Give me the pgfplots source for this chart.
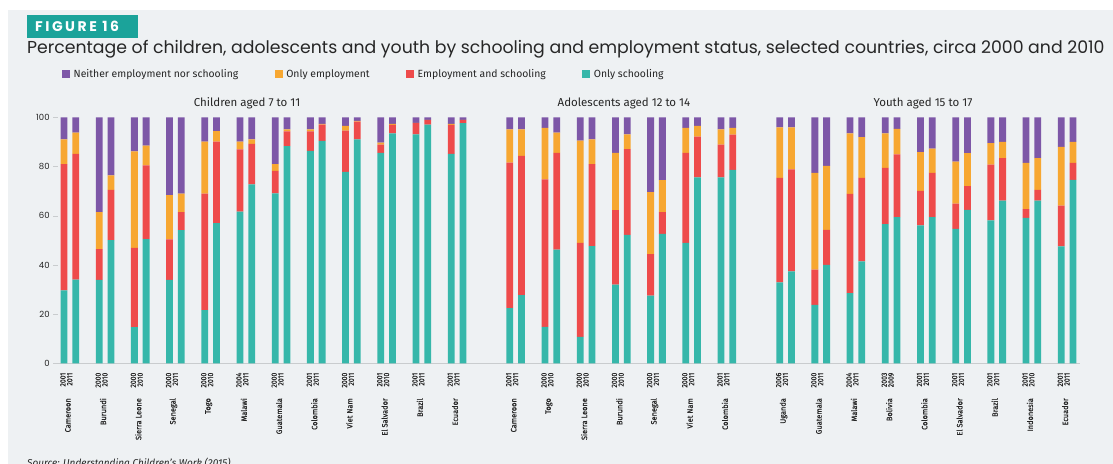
\documentclass[border=0pt]{standalone}
\usepackage{pgfplots}
\usepackage{pgfplotstable}
\pgfplotsset{compat=1.18}
\usepackage{fontspec}
\setmainfont{Fira Sans}
\newfontfamily\poppins{Poppins}
\newfontfamily\figfont[LetterSpace=18]{Poppins}
\newfontfamily\cond[FakeStretch=0.95,FakeBold=0.5]{Fira Sans}
\newfontfamily\yearfont[FakeStretch=0.9,FakeBold=0.25]{Fira Sans}
\definecolor{bgc}{HTML}{EEF1F3}
\definecolor{figteal}{HTML}{1BA39A}
\definecolor{cteal}{HTML}{36B7AA}
\definecolor{cred}{HTML}{EE4B4B}
\definecolor{corange}{HTML}{F7A731}
\definecolor{cpurple}{HTML}{7D57A7}
\definecolor{axgray}{HTML}{C9CCCE}
\definecolor{tickc}{HTML}{D9C9CC}
\definecolor{txt}{HTML}{262626}

\pgfplotstableread{
x s es e n
0 29.7 51.3 10.0 9.0
1 34.1 51.0 8.7 6.2
3 34.0 12.5 15.0 38.5
4 50.1 20.4 5.9 23.6
6 14.8 32.2 39.2 13.8
7 50.5 30.0 8.0 11.5
9 34.0 16.4 18.0 31.6
10 54.2 7.3 7.5 31.0
12 21.7 47.3 21.1 9.9
13 57.0 33.1 4.3 5.6
15 61.7 25.3 3.1 9.9
16 72.8 16.4 1.8 9.0
18 69.1 9.1 2.8 19.0
19 88.3 6.0 0.8 4.9
21 86.4 7.9 0.8 4.9
22 90.4 6.6 0.3 2.7
24 77.8 16.8 1.9 3.5
25 91.0 7.2 0.3 1.5
27 85.6 3.3 0.8 10.3
28 93.5 3.4 0.4 2.7
30 93.1 4.5 0.1 2.3
31 97.0 1.9 0.1 1.0
33 85.1 11.8 0.4 2.7
34 97.6 1.3 0.1 1.0
38 22.5 59.1 13.5 4.9
39 27.8 56.5 10.8 4.9
41 14.9 59.9 20.9 4.3
42 46.3 39.3 8.2 6.2
44 10.8 38.2 41.5 9.5
45 47.7 33.3 10.0 9.0
47 32.0 30.3 23.3 14.4
48 52.2 34.9 6.0 6.9
50 27.6 16.8 25.2 30.4
51 52.6 8.9 13.0 25.5
53 49.0 36.6 10.1 4.3
54 75.6 16.5 4.4 3.5
56 75.6 13.3 6.2 4.9
57 78.6 14.4 2.7 4.3
61 33.0 42.4 20.5 4.1
62 37.4 41.4 17.1 4.1
64 23.8 14.3 39.3 22.6
65 40.1 14.2 26.0 19.7
67 28.6 40.3 24.6 6.5
68 41.5 33.9 16.5 8.1
70 56.6 22.9 14.0 6.5
71 59.5 25.4 10.4 4.7
73 56.1 14.0 15.8 14.1
74 59.5 17.9 9.9 12.7
76 54.7 10.2 17.1 18.0
77 62.4 9.6 13.4 14.6
79 58.1 22.7 8.7 10.5
80 66.2 17.2 6.6 10.0
82 59.1 3.6 18.8 18.5
83 66.2 4.3 12.9 16.6
85 47.6 16.5 23.9 12.0
86 74.6 6.9 8.5 10.0
}\datatable

\begin{document}
\begin{tikzpicture}[x=1pt,y=1pt,
  cname/.style={xshift=-2pt, yshift=-34.5pt, rotate=90, anchor=east, inner sep=0pt, font=\cond\fontsize{7.8}{9}\selectfont, text=txt}]
\useasboundingbox (0,0) rectangle (1113,463);
\fill[bgc] (8,-5) rectangle (1120,453);
\fill[figteal] (27,425) rectangle (138,448);
\node[anchor=west, inner sep=0pt, text=white, font=\figfont\bfseries\fontsize{14}{15}\selectfont] at (35,436.5) {FIGURE 16};
\node[anchor=base west, inner sep=0pt, text=txt, font=\poppins\fontsize{17.3}{18}\selectfont] at (27,409) {Percentage of children, adolescents and youth by schooling and employment status, selected countries, circa 2000 and 2010};
\node[text=txt, font=\fontsize{11.5}{13}\selectfont] at (247,360) {Children aged 7 to 11};
\node[text=txt, font=\fontsize{11.5}{13}\selectfont] at (624,360) {Adolescents aged 12 to 14};
\node[text=txt, font=\fontsize{11.5}{13}\selectfont] at (923,360) {Youth aged 15 to 17};
\node[anchor=base west, inner sep=0pt, text=txt, font=\itshape\fontsize{10}{12}\selectfont] at (27,-3) {Source: Understanding Children's Work (2015)};

\begin{axis}[
  at={(58.13pt,99.5pt)}, anchor=south west,
  scale only axis, width=1021.9pt, height=246.2pt,
  xmin=-0.5, xmax=86.6, ymin=0, ymax=100,
  ybar stacked, bar width=6.8pt,
  axis x line*=bottom, axis y line*=left,
  y axis line style={draw=none},
  x axis line style={draw=axgray, line width=0.8pt},
  tick align=outside,
  major tick length=5pt,
  ytick={0,20,40,60,80,100},
  ytick style={draw=axgray},
  yticklabel style={font=\poppins\fontsize{8.5}{10}\selectfont, text=txt},
  /pgf/number format/assume math mode=true,
  xtick={0.5,3.5,6.5,9.5,12.5,15.5,18.5,21.5,24.5,27.5,30.5,33.5,38.5,41.5,44.5,47.5,50.5,53.5,56.5,61.5,64.5,67.5,70.5,73.5,76.5,79.5,82.5,85.5},
  xticklabels={{2001\\2011},{2000\\2010},{2000\\2010},{2000\\2011},{2000\\2010},{2004\\2011},{2000\\2011},{2001\\2011},{2000\\2011},{2001\\2010},{2001\\2011},{2001\\2011},
    {2001\\2011},{2000\\2010},{2000\\2010},{2000\\2010},{2000\\2011},{2000\\2011},{2001\\2011},
    {2006\\2011},{2000\\2011},{2004\\2011},{2003\\2009},{2001\\2011},{2001\\2011},{2001\\2011},{2001\\2010},{2001\\2011}},
  xtick style={draw=none},
  xticklabel style={xshift=-3.5pt, yshift=-4pt, rotate=90, anchor=east, align=right, inner sep=0pt, font=\yearfont\fontsize{7.6}{6.8}\selectfont, text=txt},
  extra x ticks={-0.5,0.5,...,86.5},
  extra x tick labels={},
  extra x tick style={major tick length=3pt, tick style={draw=tickc, line width=0.6pt}},
  clip=false,
  reverse legend,
  legend columns=4,
  legend style={at={(0.0038,1.176)}, anchor=west, draw=none, fill=none, inner sep=0pt,
    font=\fontsize{10.4}{12}\selectfont, text=txt,
    nodes={inner sep=3.5pt},
    /tikz/every even column/.append style={column sep=33pt}},
  legend cell align=left,
]
\addplot[fill=cteal, draw=none, legend image code/.code={\fill[cteal] (0pt,-3.8pt) rectangle (8pt,3.8pt);}] table[x=x, y=s] {\datatable};
\addplot[fill=cred, draw=none, legend image code/.code={\fill[cred] (0pt,-3.8pt) rectangle (8pt,3.8pt);}] table[x=x, y=es] {\datatable};
\addplot[fill=corange, draw=none, legend image code/.code={\fill[corange] (0pt,-3.8pt) rectangle (8pt,3.8pt);}] table[x=x, y=e] {\datatable};
\addplot[fill=cpurple, draw=none, legend image code/.code={\fill[cpurple] (0pt,-3.8pt) rectangle (8pt,3.8pt);}] table[x=x, y=n] {\datatable};
\legend{Only schooling, Employment and schooling, Only employment, Neither employment nor schooling}
\node[cname] at (axis cs:0.5,0) {Cameroon};
\node[cname] at (axis cs:3.5,0) {Burundi};
\node[cname] at (axis cs:6.5,0) {Sierra Leone};
\node[cname] at (axis cs:9.5,0) {Senegal};
\node[cname] at (axis cs:12.5,0) {Togo};
\node[cname] at (axis cs:15.5,0) {Malawi};
\node[cname] at (axis cs:18.5,0) {Guatemala};
\node[cname] at (axis cs:21.5,0) {Colombia};
\node[cname] at (axis cs:24.5,0) {Viet Nam};
\node[cname] at (axis cs:27.5,0) {El Salvador};
\node[cname] at (axis cs:30.5,0) {Brazil};
\node[cname] at (axis cs:33.5,0) {Ecuador};
\node[cname] at (axis cs:38.5,0) {Cameroon};
\node[cname] at (axis cs:41.5,0) {Togo};
\node[cname] at (axis cs:44.5,0) {Sierra Leone};
\node[cname] at (axis cs:47.5,0) {Burundi};
\node[cname] at (axis cs:50.5,0) {Senegal};
\node[cname] at (axis cs:53.5,0) {Viet Nam};
\node[cname] at (axis cs:56.5,0) {Colombia};
\node[cname] at (axis cs:61.5,0) {Uganda};
\node[cname] at (axis cs:64.5,0) {Guatemala};
\node[cname] at (axis cs:67.5,0) {Malawi};
\node[cname] at (axis cs:70.5,0) {Bolivia};
\node[cname] at (axis cs:73.5,0) {Colombia};
\node[cname] at (axis cs:76.5,0) {El Salvador};
\node[cname] at (axis cs:79.5,0) {Brazil};
\node[cname] at (axis cs:82.5,0) {Indonesia};
\node[cname] at (axis cs:85.5,0) {Ecuador};
\end{axis}
\end{tikzpicture}
\end{document}
